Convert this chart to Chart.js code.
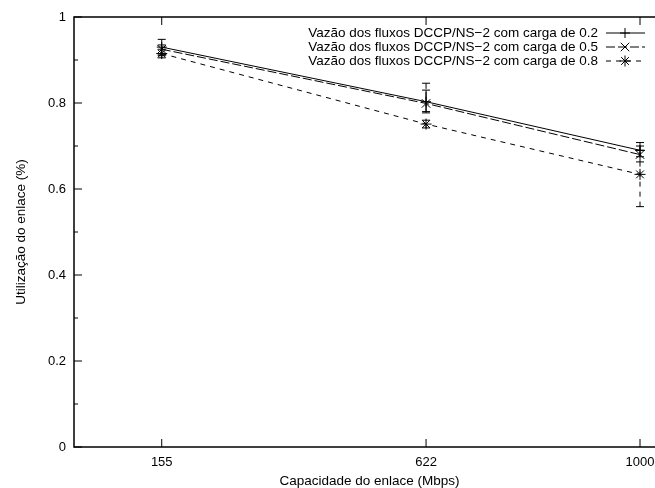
<!DOCTYPE html>
<html>
<head>
<meta charset="utf-8">
<script src="https://cdn.jsdelivr.net/npm/chart.js@4"></script>
<style>
  html, body { margin: 0; padding: 0; background: #fff; overflow: hidden; }
  #wrap { width: 655px; height: 488px; overflow: hidden; position: relative; }
  #c { position: absolute; left: 0; top: 0; }
</style>
</head>
<body>
<div id="wrap"><canvas id="c" width="672" height="488"></canvas></div>
<script>
// capacidade do enlace (Mbps)
var capacidades = [155, 622, 1000];
var xTicks = [155, 622, 1000];
var yTicks = [0, 0.1, 0.2, 0.3, 0.4, 0.5, 0.6, 0.7, 0.8, 0.9, 1];

var labels = [
  'Vazão dos fluxos DCCP/NS\u22122 com carga de 0.2',
  'Vazão dos fluxos DCCP/NS\u22122 com carga de 0.5',
  'Vazão dos fluxos DCCP/NS\u22122 com carga de 0.8'
];

// utilizacao media e barras de erro
var carga02 = [0.930, 0.803, 0.690];
var carga02Low = [0.912, 0.780, 0.675];
var carga02High = [0.948, 0.830, 0.708];

var carga05 = [0.925, 0.799, 0.680];
var carga05Low = [0.910, 0.777, 0.663];
var carga05High = [0.935, 0.846, 0.700];

var carga08 = [0.915, 0.751, 0.634];
var carga08Low = [0.905, 0.742, 0.559];
var carga08High = [0.925, 0.760, 0.690];

function pts(vals) {
  return vals.map(function (v, i) { return { x: capacidades[i], y: v }; });
}

var FONT = 'Liberation Sans, Arial, Helvetica, sans-serif';

// desenha barras de erro, ticks internos, borda e legenda (estilo gnuplot)
var gnuplotLook = {
  id: 'gnuplotLook',
  afterDatasetsDraw: function (chart) {
    var ctx = chart.ctx;
    var xs = chart.scales.x, ys = chart.scales.y;
    var a = chart.chartArea;
    ctx.save();
    ctx.strokeStyle = '#000';
    ctx.lineWidth = 1;

    chart.data.datasets.forEach(function (ds) {
      for (var i = 0; i < capacidades.length; i++) {
        var x = xs.getPixelForValue(capacidades[i]);
        var y1 = ys.getPixelForValue(ds.errLow[i]);
        var y2 = ys.getPixelForValue(ds.errHigh[i]);
        ctx.setLineDash(ds.borderDash || []);
        ctx.beginPath();
        ctx.moveTo(x, y1); ctx.lineTo(x, y2);
        ctx.stroke();
        ctx.setLineDash([]);
        ctx.beginPath();
        ctx.moveTo(x - 4, y1); ctx.lineTo(x + 4, y1);
        ctx.moveTo(x - 4, y2); ctx.lineTo(x + 4, y2);
        ctx.stroke();
      }
    });

    // borda
    ctx.lineWidth = 1.5;
    ctx.strokeRect(a.left, a.top, a.right - a.left, a.bottom - a.top);

    // ticks para dentro
    ctx.lineWidth = 1;
    ctx.beginPath();
    yTicks.forEach(function (v, i) {
      var y = ys.getPixelForValue(v);
      var len = (i % 2 === 0) ? 8 : 4;
      ctx.moveTo(a.left, y); ctx.lineTo(a.left + len, y);
      ctx.moveTo(a.right, y); ctx.lineTo(a.right - len, y);
    });
    xTicks.forEach(function (v) {
      var x = xs.getPixelForValue(v);
      ctx.moveTo(x, a.bottom); ctx.lineTo(x, a.bottom - 8);
      ctx.moveTo(x, a.top); ctx.lineTo(x, a.top + 8);
    });
    ctx.stroke();

    // legenda
    ctx.font = '13.5px ' + FONT;
    ctx.fillStyle = '#000';
    ctx.textAlign = 'right';
    ctx.textBaseline = 'middle';
    chart.data.datasets.forEach(function (ds, i) {
      var y = 33 + i * 14;
      ctx.fillText(ds.label, 598, y);
      ctx.setLineDash(ds.borderDash || []);
      ctx.beginPath();
      ctx.moveTo(606, y); ctx.lineTo(645, y);
      ctx.stroke();
      ctx.setLineDash([]);
      Chart.helpers.drawPoint(ctx, {
        pointStyle: ds.pointStyle, radius: ds.pointRadius, rotation: 0, borderWidth: 1
      }, 625, y);
    });
    ctx.restore();
  }
};

function mkSet(label, data, low, high, dash, style, r) {
  return {
    label: label,
    data: pts(data),
    errLow: low,
    errHigh: high,
    borderColor: '#000',
    backgroundColor: '#000',
    borderWidth: 1,
    borderDash: dash,
    pointStyle: style,
    pointRadius: r,
    pointBorderWidth: 1,
    pointBorderColor: '#000',
    tension: 0
  };
}

new Chart(document.getElementById('c'), {
  type: 'line',
  data: {
    datasets: [
      mkSet(labels[0], carga02, carga02Low, carga02High, [], 'cross', 5),
      mkSet(labels[1], carga05, carga05Low, carga05High, [9, 3], 'crossRot', 6),
      mkSet(labels[2], carga08, carga08Low, carga08High, [5, 5], 'star', 5.5)
    ]
  },
  options: {
    responsive: false,
    animation: false,
    devicePixelRatio: 1,
    // canvas mais largo que a janela: a borda direita fica cortada, como no original
    layout: { padding: { top: 17, right: 0, left: 0, bottom: 0 } },
    plugins: { legend: { display: false }, tooltip: { enabled: false } },
    scales: {
      x: {
        type: 'linear',
        min: 0,
        max: 1034,
        // 1000 Mbps cai a ~566px do eixo y, como no original
        afterDataLimits: function (s) {
          if (s.width > 0) { s.min = 0; s.max = 1000 * s.width / 566; }
        },
        afterBuildTicks: function (s) { s.ticks = xTicks.map(function (v) { return { value: v }; }); },
        afterFit: function (s) { s.height = 41; },
        grid: { display: false, drawTicks: false },
        border: { display: false },
        ticks: {
          color: '#000', font: { family: FONT, size: 13 }, padding: 8,
          autoSkip: false, maxRotation: 0,
          callback: function (v) { return String(v); }
        },
        title: {
          display: true, text: 'Capacidade do enlace (Mbps)', color: '#000',
          font: { family: FONT, size: 13.5, lineHeight: 1 }, padding: { top: 0, bottom: 0 }
        }
      },
      y: {
        min: 0,
        max: 1,
        afterBuildTicks: function (s) { s.ticks = yTicks.map(function (v) { return { value: v }; }); },
        afterFit: function (s) { s.width = 74; },
        grid: { display: false, drawTicks: false },
        border: { display: false },
        ticks: {
          color: '#000', font: { family: FONT, size: 13 }, padding: 8,
          callback: function (v) {
            var k = Math.round(v * 10);
            return (k % 2 === 0) ? String(k / 10) : '';
          }
        },
        title: {
          display: true, text: 'Utilização do enlace (%)', color: '#000',
          font: { family: FONT, size: 13.5, lineHeight: 1 }, padding: { top: 15, bottom: 0 }
        }
      }
    }
  },
  plugins: [gnuplotLook]
});
</script>
</body>
</html>
